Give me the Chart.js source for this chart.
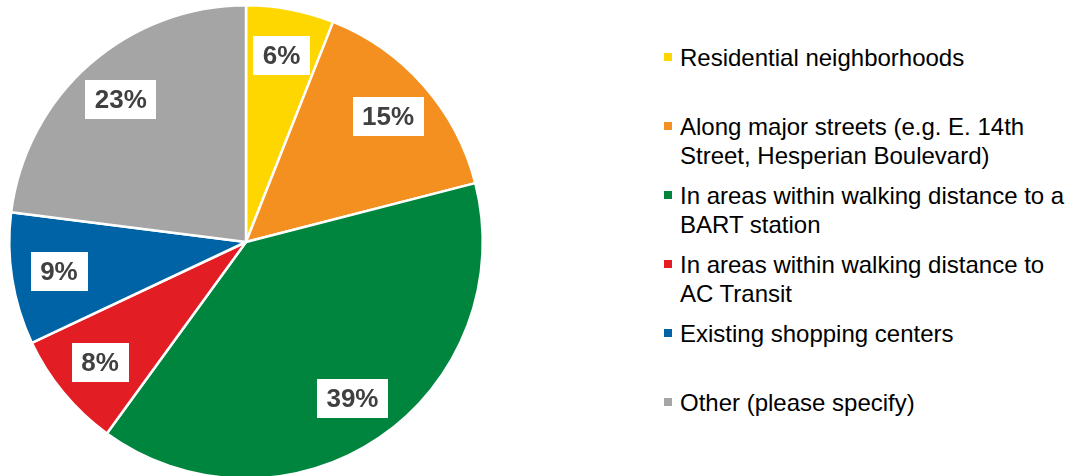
<!DOCTYPE html>
<html>
<head>
<meta charset="utf-8">
<script src="https://cdn.jsdelivr.net/npm/chart.js@4.4.1/dist/chart.umd.min.js"></script>
<style>
  html, body { margin:0; padding:0; background:#fff; overflow:hidden; }
  #wrap { position:relative; width:1073px; height:476px; }
  #pieBox { position:absolute; left:0; top:0; width:492px; height:484px; }
  #legend { position:absolute; left:664px; top:0; width:409px;
            font-family:"Liberation Sans", Arial, sans-serif; font-size:24px; line-height:29px; color:#000; }
  .lg-item { position:absolute; left:0; white-space:pre-line; padding-left:16px; }
  .lg-swatch { position:absolute; left:0; top:10px; width:8px; height:8px; }
</style>
</head>
<body>
<div id="wrap">
  <div id="pieBox"><canvas id="pie"></canvas></div>
  <div id="legend"></div>
</div>
<script>
  // survey answers: where should new housing go
  const categories = [
    'Residential neighborhoods',
    'Along major streets (e.g. E. 14th\nStreet, Hesperian Boulevard)',
    'In areas within walking distance to a\nBART station',
    'In areas within walking distance to\nAC Transit',
    'Existing shopping centers',
    'Other (please specify)'
  ];
  const shares = [6, 15, 39, 8, 9, 23];
  const sliceColors = ['#FFD700', '#F39020', '#00853F', '#E31D24', '#0063A6', '#A5A5A5'];

  // legend on the right, one slot every 69px
  const legend = document.getElementById('legend');
  categories.forEach((txt, i) => {
    const item = document.createElement('div');
    item.className = 'lg-item';
    item.style.top = (43 + i * 69) + 'px';
    item.textContent = txt;
    const sw = document.createElement('span');
    sw.className = 'lg-swatch';
    sw.style.background = sliceColors[i];
    item.appendChild(sw);
    legend.appendChild(item);
  });

  // white boxed percentage labels inside each slice
  const boxLabels = {
    id: 'boxLabels',
    afterDatasetsDraw(chart) {
      const ctx = chart.ctx;
      const meta = chart.getDatasetMeta(0);
      ctx.save();
      ctx.font = 'bold 26px "Liberation Sans", Arial, sans-serif';
      ctx.textAlign = 'center';
      ctx.textBaseline = 'middle';
      meta.data.forEach((arc, i) => {
        const p = arc.getProps(['x', 'y', 'startAngle', 'endAngle', 'outerRadius'], true);
        const mid = (p.startAngle + p.endAngle) / 2;
        const r = p.outerRadius * 0.8;
        const cx = p.x + Math.cos(mid) * r;
        const cy = p.y + Math.sin(mid) * r;
        const text = shares[i] + '%';
        const w = ctx.measureText(text).width + 19;
        const h = 39;
        ctx.fillStyle = '#fff';
        ctx.fillRect(Math.round(cx - w / 2), Math.round(cy - h / 2), Math.round(w), h);
        ctx.fillStyle = '#404040';
        ctx.fillText(text, cx, cy + 1);
      });
      ctx.restore();
    }
  };

  new Chart(document.getElementById('pie'), {
    type: 'pie',
    data: {
      labels: categories,
      datasets: [{
        data: shares,
        backgroundColor: sliceColors,
        borderColor: '#fff',
        borderWidth: 2.5
      }]
    },
    options: {
      responsive: true,
      maintainAspectRatio: false,
      animation: false,
      layout: { padding: { left: 8, right: 8, top: 4, bottom: 4 } },
      plugins: {
        legend: { display: false },
        tooltip: { enabled: false }
      }
    },
    plugins: [boxLabels]
  });
</script>
</body>
</html>
